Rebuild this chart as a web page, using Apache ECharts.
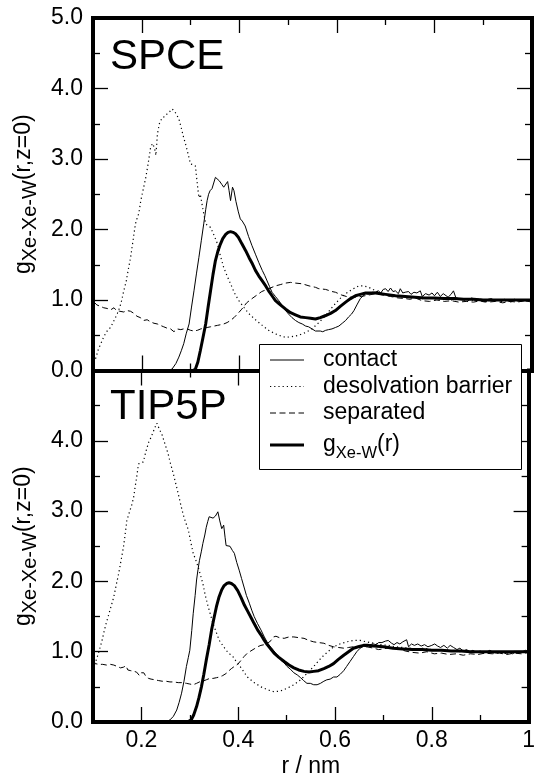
<!DOCTYPE html>
<html><head><meta charset="utf-8">
<script src="https://cdn.jsdelivr.net/npm/echarts@6/dist/echarts.min.js"></script>
<style>html,body{margin:0;padding:0;background:#fff}#c{width:538px;height:779px}</style>
</head><body><div id="c"></div>
<script>
const FONT = '"Liberation Sans", Arial, Helvetica, sans-serif';
const panelNames = ['SPCE', 'TIP5P'];
const legendNames = ['contact', 'desolvation barrier', 'separated'];
const xAxisName = 'r / nm';

// ---- SPCE (top panel) : [r (nm), g] ----
const spceContact = [[0.255,0],[0.262,0.02],[0.27,0.10],[0.276,0.19],[0.281,0.28],[0.286,0.38],[0.291,0.52],[0.297,0.66],[0.302,0.90],[0.307,1.13],[0.312,1.37],[0.317,1.60],[0.322,1.84],[0.327,2.08],[0.331,2.28],[0.334,2.41],[0.337,2.50],[0.340,2.55],[0.344,2.58],[0.348,2.60],[0.351,2.74],[0.355,2.72],[0.359,2.69],[0.364,2.64],[0.368,2.60],[0.372,2.58],[0.376,2.68],[0.379,2.55],[0.382,2.41],[0.386,2.60],[0.389,2.55],[0.393,2.40],[0.398,2.25],[0.402,2.15],[0.406,2.12],[0.412,2.05],[0.419,1.90],[0.426,1.77],[0.433,1.65],[0.44,1.53],[0.447,1.42],[0.452,1.35],[0.457,1.27],[0.462,1.19],[0.467,1.11],[0.474,1.05],[0.481,0.99],[0.488,0.92],[0.495,0.85],[0.501,0.80],[0.508,0.75],[0.515,0.71],[0.522,0.68],[0.529,0.66],[0.536,0.63],[0.542,0.62],[0.549,0.59],[0.556,0.56],[0.56,0.54],[0.566,0.56],[0.571,0.55],[0.577,0.57],[0.583,0.58],[0.59,0.59],[0.597,0.61],[0.604,0.63],[0.611,0.67],[0.618,0.71],[0.624,0.76],[0.63,0.80],[0.635,0.85],[0.641,0.93],[0.648,1.02],[0.654,1.06],[0.659,1.09],[0.665,1.08],[0.672,1.11],[0.679,1.11],[0.685,1.13],[0.69,1.10],[0.695,1.15],[0.70,1.16],[0.705,1.12],[0.71,1.17],[0.715,1.12],[0.72,1.13],[0.726,1.09],[0.73,1.16],[0.735,1.10],[0.74,1.11],[0.747,1.12],[0.752,1.08],[0.758,1.11],[0.764,1.10],[0.771,1.13],[0.775,1.05],[0.782,1.09],[0.789,1.07],[0.795,1.10],[0.80,1.06],[0.806,1.11],[0.812,1.05],[0.818,1.09],[0.822,1.10],[0.828,1.04],[0.834,1.08],[0.839,1.13],[0.844,1.03],[0.85,1.02],[0.857,1.00],[0.864,1.02],[0.87,1.01],[0.877,1.03],[0.884,0.99],[0.89,1.01],[0.897,0.98],[0.905,0.97],[0.91,1.01],[0.917,1.02],[0.923,0.99],[0.93,1.00],[0.937,0.98],[0.944,1.01],[0.95,0.99],[0.957,0.97],[0.964,1.01],[0.97,0.99],[0.977,0.98],[0.984,1.00],[0.99,0.98],[1.0,1.01]];
const spceBarrier = [[0.10,0.12],[0.106,0.18],[0.111,0.30],[0.116,0.38],[0.121,0.46],[0.126,0.53],[0.131,0.58],[0.136,0.61],[0.141,0.68],[0.146,0.75],[0.150,0.81],[0.155,0.90],[0.159,1.00],[0.163,1.13],[0.168,1.26],[0.172,1.42],[0.177,1.60],[0.182,1.84],[0.187,2.08],[0.190,2.15],[0.194,2.23],[0.198,2.41],[0.203,2.57],[0.208,2.73],[0.213,2.93],[0.218,3.16],[0.222,3.22],[0.226,3.16],[0.229,3.05],[0.232,3.35],[0.236,3.50],[0.242,3.59],[0.247,3.60],[0.252,3.64],[0.257,3.67],[0.262,3.71],[0.267,3.68],[0.272,3.62],[0.276,3.57],[0.281,3.44],[0.286,3.30],[0.291,3.18],[0.296,3.04],[0.300,2.93],[0.305,2.92],[0.310,2.90],[0.313,2.70],[0.317,2.45],[0.320,2.50],[0.325,2.30],[0.331,2.08],[0.336,2.05],[0.341,2.03],[0.348,1.92],[0.355,1.80],[0.361,1.63],[0.368,1.46],[0.375,1.34],[0.382,1.23],[0.39,1.10],[0.399,0.99],[0.41,0.89],[0.419,0.81],[0.433,0.72],[0.447,0.64],[0.46,0.57],[0.474,0.52],[0.485,0.49],[0.495,0.47],[0.508,0.48],[0.522,0.50],[0.536,0.54],[0.549,0.59],[0.563,0.68],[0.577,0.78],[0.587,0.87],[0.597,0.95],[0.608,1.03],[0.618,1.09],[0.631,1.15],[0.645,1.20],[0.655,1.20],[0.665,1.18],[0.677,1.14],[0.69,1.10],[0.70,1.08],[0.715,1.06],[0.73,1.05],[0.745,1.03],[0.76,1.04],[0.775,1.02],[0.79,1.03],[0.805,1.01],[0.82,1.02],[0.835,1.00],[0.85,1.01],[0.865,0.99],[0.88,1.00],[0.895,1.01],[0.91,0.99],[0.925,1.00],[0.94,0.98],[0.955,1.00],[0.97,0.99],[0.985,1.00],[1.0,0.99]];
const spceSeparated = [[0.10,1.10],[0.102,0.97],[0.108,0.93],[0.115,0.91],[0.122,0.89],[0.129,0.88],[0.136,0.86],[0.143,0.89],[0.148,0.85],[0.155,0.84],[0.163,0.83],[0.170,0.85],[0.177,0.84],[0.184,0.81],[0.190,0.77],[0.197,0.75],[0.204,0.71],[0.211,0.72],[0.218,0.69],[0.225,0.67],[0.232,0.66],[0.238,0.64],[0.245,0.62],[0.252,0.60],[0.259,0.59],[0.266,0.55],[0.272,0.59],[0.28,0.58],[0.286,0.59],[0.293,0.59],[0.300,0.57],[0.307,0.56],[0.314,0.57],[0.321,0.59],[0.327,0.60],[0.334,0.61],[0.341,0.62],[0.348,0.63],[0.355,0.64],[0.362,0.65],[0.368,0.66],[0.375,0.68],[0.382,0.71],[0.389,0.75],[0.396,0.80],[0.405,0.87],[0.415,0.96],[0.426,1.02],[0.436,1.07],[0.446,1.12],[0.46,1.16],[0.474,1.20],[0.485,1.22],[0.495,1.24],[0.505,1.25],[0.515,1.24],[0.529,1.23],[0.543,1.20],[0.556,1.18],[0.563,1.16],[0.577,1.15],[0.59,1.12],[0.597,1.11],[0.61,1.07],[0.624,1.04],[0.637,1.04],[0.65,1.05],[0.665,1.07],[0.679,1.09],[0.695,1.07],[0.71,1.05],[0.725,1.03],[0.74,1.02],[0.75,1.01],[0.76,1.03],[0.775,0.99],[0.79,0.98],[0.805,1.00],[0.82,0.98],[0.835,0.99],[0.85,0.97],[0.865,0.98],[0.88,0.97],[0.895,0.99],[0.91,0.97],[0.925,0.98],[0.94,0.96],[0.955,0.98],[0.97,0.97],[0.985,0.99],[1.0,0.97]];
const spceGr = [[0.30,0],[0.305,0.0],[0.31,0.02],[0.315,0.12],[0.32,0.28],[0.325,0.45],[0.331,0.66],[0.336,0.90],[0.341,1.13],[0.346,1.36],[0.351,1.56],[0.356,1.69],[0.361,1.79],[0.366,1.87],[0.372,1.93],[0.377,1.96],[0.382,1.97],[0.387,1.96],[0.392,1.94],[0.398,1.89],[0.405,1.80],[0.413,1.70],[0.42,1.60],[0.427,1.51],[0.433,1.42],[0.44,1.34],[0.447,1.27],[0.454,1.20],[0.46,1.13],[0.467,1.06],[0.474,0.99],[0.481,0.95],[0.488,0.91],[0.495,0.87],[0.505,0.82],[0.515,0.79],[0.525,0.76],[0.536,0.75],[0.546,0.74],[0.556,0.73],[0.566,0.75],[0.577,0.78],[0.587,0.81],[0.597,0.85],[0.607,0.91],[0.618,0.97],[0.628,1.02],[0.638,1.06],[0.648,1.08],[0.659,1.10],[0.669,1.10],[0.679,1.10],[0.69,1.09],[0.70,1.08],[0.72,1.06],[0.74,1.05],[0.76,1.04],[0.78,1.03],[0.80,1.03],[0.82,1.02],[0.84,1.02],[0.86,1.01],[0.88,1.01],[0.90,1.00],[0.92,1.00],[0.94,1.00],[0.96,1.00],[0.98,1.00],[1.0,1.00]];

// ---- TIP5P (bottom panel) ----
const tipContact = [[0.25,0],[0.259,0.03],[0.266,0.08],[0.273,0.17],[0.278,0.28],[0.283,0.41],[0.288,0.58],[0.293,0.79],[0.297,0.92],[0.300,1.02],[0.304,1.30],[0.307,1.54],[0.311,1.80],[0.314,2.02],[0.317,2.17],[0.320,2.30],[0.324,2.43],[0.327,2.54],[0.331,2.66],[0.334,2.77],[0.337,2.85],[0.340,2.92],[0.344,2.93],[0.348,2.90],[0.353,2.93],[0.358,2.99],[0.362,2.86],[0.366,2.75],[0.370,2.80],[0.373,2.62],[0.375,2.51],[0.379,2.53],[0.383,2.50],[0.388,2.44],[0.392,2.40],[0.397,2.27],[0.402,2.16],[0.407,2.04],[0.412,1.92],[0.417,1.80],[0.423,1.69],[0.428,1.59],[0.433,1.50],[0.44,1.40],[0.447,1.31],[0.454,1.21],[0.461,1.12],[0.468,1.06],[0.474,1.01],[0.481,0.95],[0.488,0.88],[0.495,0.84],[0.501,0.79],[0.508,0.75],[0.515,0.70],[0.522,0.67],[0.529,0.63],[0.535,0.59],[0.542,0.55],[0.549,0.55],[0.556,0.53],[0.563,0.53],[0.57,0.55],[0.577,0.58],[0.583,0.60],[0.59,0.61],[0.597,0.64],[0.604,0.64],[0.611,0.68],[0.618,0.73],[0.624,0.79],[0.631,0.86],[0.638,0.93],[0.645,1.00],[0.652,1.05],[0.659,1.08],[0.665,1.07],[0.672,1.10],[0.679,1.11],[0.685,1.10],[0.69,1.13],[0.697,1.13],[0.704,1.15],[0.71,1.16],[0.717,1.12],[0.722,1.10],[0.728,1.13],[0.734,1.11],[0.74,1.14],[0.748,1.17],[0.752,1.07],[0.758,1.11],[0.764,1.09],[0.771,1.11],[0.778,1.08],[0.785,1.10],[0.792,1.07],[0.80,1.09],[0.806,1.11],[0.812,1.08],[0.818,1.06],[0.825,1.09],[0.832,1.05],[0.838,1.09],[0.845,1.06],[0.852,1.03],[0.858,1.05],[0.865,1.01],[0.872,1.03],[0.878,1.00],[0.885,1.02],[0.892,0.99],[0.90,1.01],[0.907,0.98],[0.914,1.00],[0.92,1.02],[0.927,0.99],[0.934,0.98],[0.94,1.00],[0.947,0.99],[0.954,0.97],[0.96,0.99],[0.967,0.97],[0.974,1.00],[0.98,0.98],[0.987,1.00],[0.994,1.02],[1.0,1.0]];
const tipBarrier = [[0.10,0.76],[0.105,0.85],[0.109,0.93],[0.113,1.02],[0.118,1.14],[0.122,1.26],[0.127,1.40],[0.133,1.54],[0.138,1.66],[0.143,1.78],[0.148,1.95],[0.153,2.11],[0.158,2.30],[0.163,2.49],[0.167,2.70],[0.170,2.87],[0.175,2.98],[0.181,3.11],[0.184,3.20],[0.187,3.34],[0.191,3.52],[0.194,3.67],[0.199,3.69],[0.204,3.70],[0.209,3.84],[0.215,3.98],[0.220,4.05],[0.224,4.12],[0.228,4.19],[0.232,4.25],[0.235,4.24],[0.238,4.15],[0.242,4.10],[0.248,3.97],[0.255,3.82],[0.260,3.68],[0.266,3.53],[0.271,3.39],[0.276,3.25],[0.281,3.10],[0.286,2.96],[0.291,2.85],[0.297,2.73],[0.302,2.56],[0.307,2.40],[0.312,2.31],[0.317,2.21],[0.322,2.09],[0.327,1.97],[0.332,1.80],[0.338,1.64],[0.343,1.52],[0.348,1.40],[0.355,1.27],[0.361,1.16],[0.368,1.09],[0.375,1.02],[0.382,0.97],[0.389,0.93],[0.395,0.87],[0.40,0.83],[0.41,0.73],[0.419,0.64],[0.433,0.56],[0.447,0.50],[0.46,0.46],[0.474,0.43],[0.487,0.44],[0.501,0.48],[0.515,0.53],[0.529,0.60],[0.542,0.69],[0.556,0.79],[0.566,0.87],[0.577,0.95],[0.587,1.01],[0.597,1.07],[0.61,1.11],[0.624,1.14],[0.638,1.16],[0.652,1.16],[0.665,1.14],[0.68,1.12],[0.695,1.10],[0.71,1.09],[0.725,1.07],[0.74,1.06],[0.755,1.05],[0.77,1.04],[0.785,1.05],[0.80,1.03],[0.815,1.02],[0.83,1.03],[0.845,1.01],[0.86,1.00],[0.875,1.01],[0.89,0.99],[0.905,1.00],[0.92,0.98],[0.935,0.99],[0.95,0.98],[0.965,1.00],[0.98,0.99],[1.0,1.00]];
const tipSeparated = [[0.10,1.15],[0.102,0.86],[0.105,0.83],[0.112,0.82],[0.12,0.82],[0.128,0.81],[0.136,0.82],[0.143,0.81],[0.15,0.79],[0.157,0.77],[0.163,0.78],[0.168,0.80],[0.172,0.74],[0.178,0.73],[0.185,0.72],[0.19,0.71],[0.196,0.66],[0.2,0.70],[0.205,0.70],[0.21,0.64],[0.215,0.62],[0.22,0.61],[0.228,0.60],[0.235,0.59],[0.243,0.58],[0.251,0.58],[0.259,0.57],[0.267,0.57],[0.276,0.56],[0.284,0.56],[0.293,0.55],[0.30,0.54],[0.307,0.53],[0.314,0.55],[0.320,0.57],[0.327,0.58],[0.334,0.60],[0.341,0.62],[0.348,0.62],[0.355,0.63],[0.361,0.64],[0.368,0.66],[0.375,0.69],[0.381,0.73],[0.386,0.76],[0.392,0.79],[0.399,0.82],[0.405,0.87],[0.412,0.93],[0.419,0.98],[0.426,1.01],[0.433,1.04],[0.44,1.07],[0.447,1.09],[0.454,1.10],[0.461,1.12],[0.468,1.16],[0.473,1.21],[0.478,1.22],[0.485,1.20],[0.495,1.19],[0.505,1.21],[0.515,1.21],[0.525,1.20],[0.536,1.19],[0.546,1.16],[0.556,1.14],[0.566,1.13],[0.577,1.12],[0.587,1.09],[0.597,1.07],[0.607,1.06],[0.618,1.05],[0.628,1.06],[0.638,1.07],[0.65,1.07],[0.665,1.07],[0.68,1.05],[0.69,1.03],[0.70,1.04],[0.715,1.06],[0.73,1.05],[0.745,1.01],[0.76,0.99],[0.775,0.98],[0.79,1.00],[0.805,0.97],[0.82,0.98],[0.835,0.96],[0.85,0.97],[0.865,0.95],[0.88,0.97],[0.895,0.96],[0.91,0.98],[0.925,0.97],[0.94,0.98],[0.955,0.96],[0.97,0.98],[0.985,0.97],[1.0,0.99]];
const tipGr = [[0.295,0],[0.303,0.03],[0.308,0.10],[0.314,0.22],[0.319,0.35],[0.324,0.50],[0.329,0.68],[0.334,0.88],[0.340,1.10],[0.345,1.31],[0.350,1.48],[0.355,1.64],[0.360,1.77],[0.366,1.88],[0.371,1.94],[0.376,1.97],[0.381,1.98],[0.386,1.97],[0.392,1.94],[0.399,1.87],[0.406,1.77],[0.413,1.66],[0.42,1.57],[0.427,1.48],[0.433,1.40],[0.44,1.31],[0.447,1.24],[0.454,1.16],[0.46,1.10],[0.467,1.04],[0.474,0.98],[0.484,0.92],[0.495,0.86],[0.505,0.81],[0.515,0.77],[0.525,0.74],[0.536,0.72],[0.546,0.71],[0.556,0.72],[0.566,0.73],[0.577,0.76],[0.587,0.79],[0.597,0.83],[0.607,0.89],[0.618,0.95],[0.628,1.00],[0.638,1.05],[0.648,1.07],[0.659,1.09],[0.669,1.09],[0.68,1.08],[0.70,1.07],[0.72,1.05],[0.74,1.04],[0.76,1.03],[0.78,1.03],[0.80,1.02],[0.82,1.02],[0.84,1.01],[0.86,1.01],[0.88,1.00],[0.90,1.00],[0.92,1.00],[0.94,1.00],[0.96,1.00],[0.98,1.00],[1.0,1.00]];

const BLACK = '#000';
const tickStyle = {color: BLACK, width: 1.3};
const lineAxisStyle = {color: BLACK, width: 4, cap: 'square'};
const LABEL_SIZE = 23;

function xAx(grid, pos, labels) {
  return {
    type: 'value', gridIndex: grid, position: pos, min: 0.1, max: 1.0, splitNumber: 5,
    axisLine: {show: true, onZero: false, lineStyle: lineAxisStyle},
    axisTick: {show: true, inside: true, length: 15, lineStyle: tickStyle},
    minorTick: {show: true, splitNumber: 2, length: 7, lineStyle: tickStyle},
    splitLine: {show: false}, minorSplitLine: {show: false},
    axisLabel: {show: labels, showMinLabel: false, margin: 7, fontSize: LABEL_SIZE, fontFamily: FONT, color: BLACK,
      formatter: v => Math.abs(v - 1) < 1e-9 ? '1' : v.toFixed(1)},
    name: labels ? xAxisName : '', nameLocation: 'middle', nameGap: 33,
    nameTextStyle: {fontSize: LABEL_SIZE, fontFamily: FONT, color: BLACK}
  };
}
const axisNameRich = {
  a: {fontSize: 23, fontFamily: FONT, color: BLACK},
  b: {fontSize: 20, fontFamily: FONT, color: BLACK, lineHeight: 33, verticalAlign: 'bottom'}
};
const legendRich = {
  a: {fontSize: 23, fontFamily: FONT, color: BLACK},
  b: {fontSize: 16.5, fontFamily: FONT, color: BLACK, lineHeight: 34, verticalAlign: 'bottom'}
};
function yAx(grid, pos, labels, showMax) {
  return {
    type: 'value', gridIndex: grid, position: pos, min: 0, max: 5, interval: 1,
    axisLine: {show: true, onZero: false, lineStyle: lineAxisStyle},
    axisTick: {show: true, inside: true, length: 15, lineStyle: tickStyle},
    minorTick: {show: true, splitNumber: 2, length: 7, lineStyle: tickStyle},
    splitLine: {show: false}, minorSplitLine: {show: false},
    axisLabel: {show: labels, showMaxLabel: showMax, margin: 10, fontSize: LABEL_SIZE, fontFamily: FONT, color: BLACK,
      formatter: v => v.toFixed(1)},
    name: labels ? '{a|g}{b|Xe-Xe-W}{a|(r,z=0)}' : '', nameLocation: 'middle', nameRotate: 90, nameGap: 48,
    nameTextStyle: {fontSize: 23, fontFamily: FONT, color: BLACK, rich: axisNameRich}
  };
}

function ser(data, xi, yi, width, dash) {
  return {type: 'line', data: data, xAxisIndex: xi, yAxisIndex: yi, symbol: 'none', showSymbol: false,
    smooth: false, animation: false, z: 3,
    lineStyle: {color: BLACK, width: width, type: dash}};
}
const DOT = [1.2, 3];
const DASH = [6, 3.5];

const legendRows = [
  {y: 360, dash: 'solid', width: 1, text: legendNames[0]},
  {y: 386.5, dash: DOT, width: 1.2, text: legendNames[1]},
  {y: 413, dash: DASH, width: 1, text: legendNames[2]},
  {y: 445, dash: 'solid', width: 3, text: '{a|g}{b|Xe-W}{a|(r)}'}
];
const graphics = [
  {type: 'rect', z: 100, shape: {x: 259.5, y: 344.5, width: 262, height: 125},
   style: {fill: '#fff', stroke: BLACK, lineWidth: 1}},
  {type: 'text', z: 101, x: 110, y: 57, style: {text: panelNames[0], fontSize: 42, fontFamily: FONT, fill: BLACK, textVerticalAlign: 'middle'}},
  {type: 'text', z: 101, x: 110, y: 407, style: {text: panelNames[1], fontSize: 42, fontFamily: FONT, fill: BLACK, textVerticalAlign: 'middle'}}
];
legendRows.forEach(r => {
  graphics.push({type: 'line', z: 101, shape: {x1: 270, y1: r.y, x2: 304, y2: r.y},
    style: {stroke: BLACK, lineWidth: r.width, lineDash: r.dash === 'solid' ? null : r.dash}});
  graphics.push({type: 'text', z: 101, x: 323, y: r.y,
    style: {text: r.text, fontSize: 23, fontFamily: FONT, fill: BLACK, textVerticalAlign: 'middle', rich: legendRich}});
});

const chart = echarts.init(document.getElementById('c'), null, {renderer: 'canvas'});
chart.setOption({
  animation: false,
  backgroundColor: '#fff',
  grid: [
    {left: 93, right: 6, top: 18, height: 352.5},
    {left: 93, right: 6, top: 370.5, height: 351.5}
  ],
  xAxis: [xAx(0, 'bottom', false), xAx(0, 'top', false), xAx(1, 'bottom', true), xAx(1, 'top', false)],
  yAxis: [yAx(0, 'left', true, true), yAx(0, 'right', false, true), yAx(1, 'left', true, false), yAx(1, 'right', false, false)],
  series: [
    ser(spceBarrier, 0, 0, 1.2, DOT),
    ser(spceSeparated, 0, 0, 1, DASH),
    ser(spceContact, 0, 0, 1, 'solid'),
    ser(spceGr, 0, 0, 3, 'solid'),
    ser(tipBarrier, 2, 2, 1.2, DOT),
    ser(tipSeparated, 2, 2, 1, DASH),
    ser(tipContact, 2, 2, 1, 'solid'),
    ser(tipGr, 2, 2, 3, 'solid')
  ],
  graphic: graphics
});
</script>
</body></html>
